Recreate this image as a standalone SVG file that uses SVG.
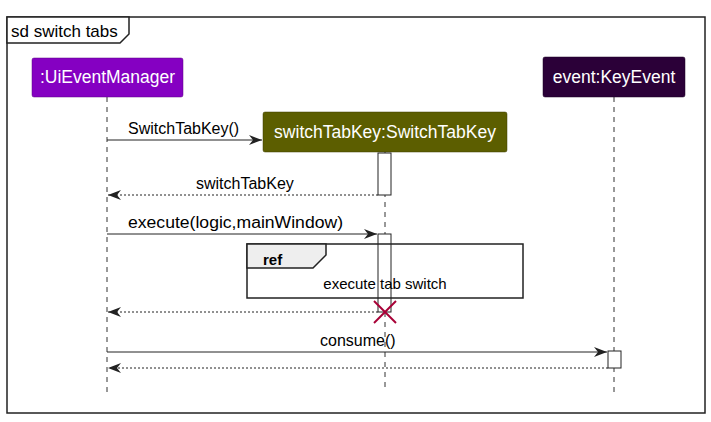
<svg xmlns="http://www.w3.org/2000/svg" width="711" height="422" viewBox="0 0 711 422">
<style>
text{font-family:"Liberation Sans",Arial,sans-serif;fill:#000}
.lbl{font-size:16px}
.hd{font-size:17.5px;fill:#fff}
.life{stroke:#333;stroke-width:1;stroke-dasharray:5,5}
.msg{stroke:#222;stroke-width:1}
.ret{stroke:#222;stroke-width:1;stroke-dasharray:2,2}
.act{fill:#fff;stroke:#222;stroke-width:1}
</style>
<defs>
<marker id="ah" markerWidth="14" markerHeight="10" refX="13" refY="5" orient="auto" markerUnits="userSpaceOnUse">
<polygon points="0,0 13,5 0,10 4,5" fill="#222"/>
</marker>
</defs>
<rect x="0" y="0" width="711" height="422" fill="#fff"/>
<g id="frame">
<rect x="7" y="17" width="698" height="396" fill="none" stroke="#222" stroke-width="1.5"/>
<polygon points="7,17 129,17 129,34 120,43 7,43" fill="#fff" stroke="#222" stroke-width="1.5"/>
<text x="11" y="37" style="font-size:17px">sd switch tabs</text>
</g>
<g id="lifelines">
<line class="life" x1="107" y1="97" x2="107" y2="392"/>
<line class="life" x1="385" y1="152" x2="385" y2="392"/>
<line class="life" x1="614" y1="97" x2="614" y2="392"/>
</g>
<g id="uiEventManager">
<rect x="32" y="58" width="151" height="39" rx="2" fill="#8500C2" stroke="#5a0080" stroke-width="0.5"/>
<text class="hd" x="107.5" y="83" text-anchor="middle">:UiEventManager</text>
</g>
<g id="switchTabKey">
<rect x="263" y="112" width="244" height="40" rx="2" fill="#5C5E00" stroke="#3c3c00" stroke-width="0.5"/>
<text class="hd" x="385" y="138" text-anchor="middle">switchTabKey:SwitchTabKey</text>
</g>
<g id="keyEvent">
<rect x="543" y="57" width="142" height="40" rx="2" fill="#2B0038" stroke="#1a0022" stroke-width="0.5"/>
<text class="hd" x="614" y="83" text-anchor="middle">event:KeyEvent</text>
</g>
<g id="activations">
<rect class="act" x="378" y="153" width="13" height="42"/>
<rect class="act" x="378" y="234" width="13" height="78"/>
<rect class="act" x="608" y="351" width="13" height="17"/>
</g>
<g id="ref">
<rect x="247" y="244" width="276" height="54" fill="none" stroke="#222" stroke-width="1.5"/>
<polygon points="247,244 326,244 326,255 313,268 247,268" fill="#EEEEEE" stroke="#222" stroke-width="1.5"/>
<text x="263" y="265" style="font-size:15px;font-weight:bold">ref</text>
<text x="385" y="289" text-anchor="middle" style="font-size:15px">execute tab switch</text>
</g>
<g id="connectors">
<line class="msg" x1="107" y1="140" x2="262" y2="140" marker-end="url(#ah)"/>
<text class="lbl" x="128" y="134">SwitchTabKey()</text>
<line class="ret" x1="378" y1="195" x2="108" y2="195" marker-end="url(#ah)"/>
<text class="lbl" x="196" y="189">switchTabKey</text>
<line class="msg" x1="107" y1="234" x2="377" y2="234" marker-end="url(#ah)"/>
<text class="lbl" x="128" y="228" textLength="215" lengthAdjust="spacingAndGlyphs">execute(logic,mainWindow)</text>
<line class="ret" x1="378" y1="312" x2="108" y2="312" marker-end="url(#ah)"/>
<line class="msg" x1="107" y1="352" x2="607" y2="352" marker-end="url(#ah)"/>
<text class="lbl" x="320" y="346">consume()</text>
<line class="ret" x1="608" y1="368" x2="108" y2="368" marker-end="url(#ah)"/>
</g>
<g id="destroy" stroke="#A80036" stroke-width="2">
<line x1="374" y1="301" x2="396" y2="323"/>
<line x1="396" y1="301" x2="374" y2="323"/>
</g>
</svg>
